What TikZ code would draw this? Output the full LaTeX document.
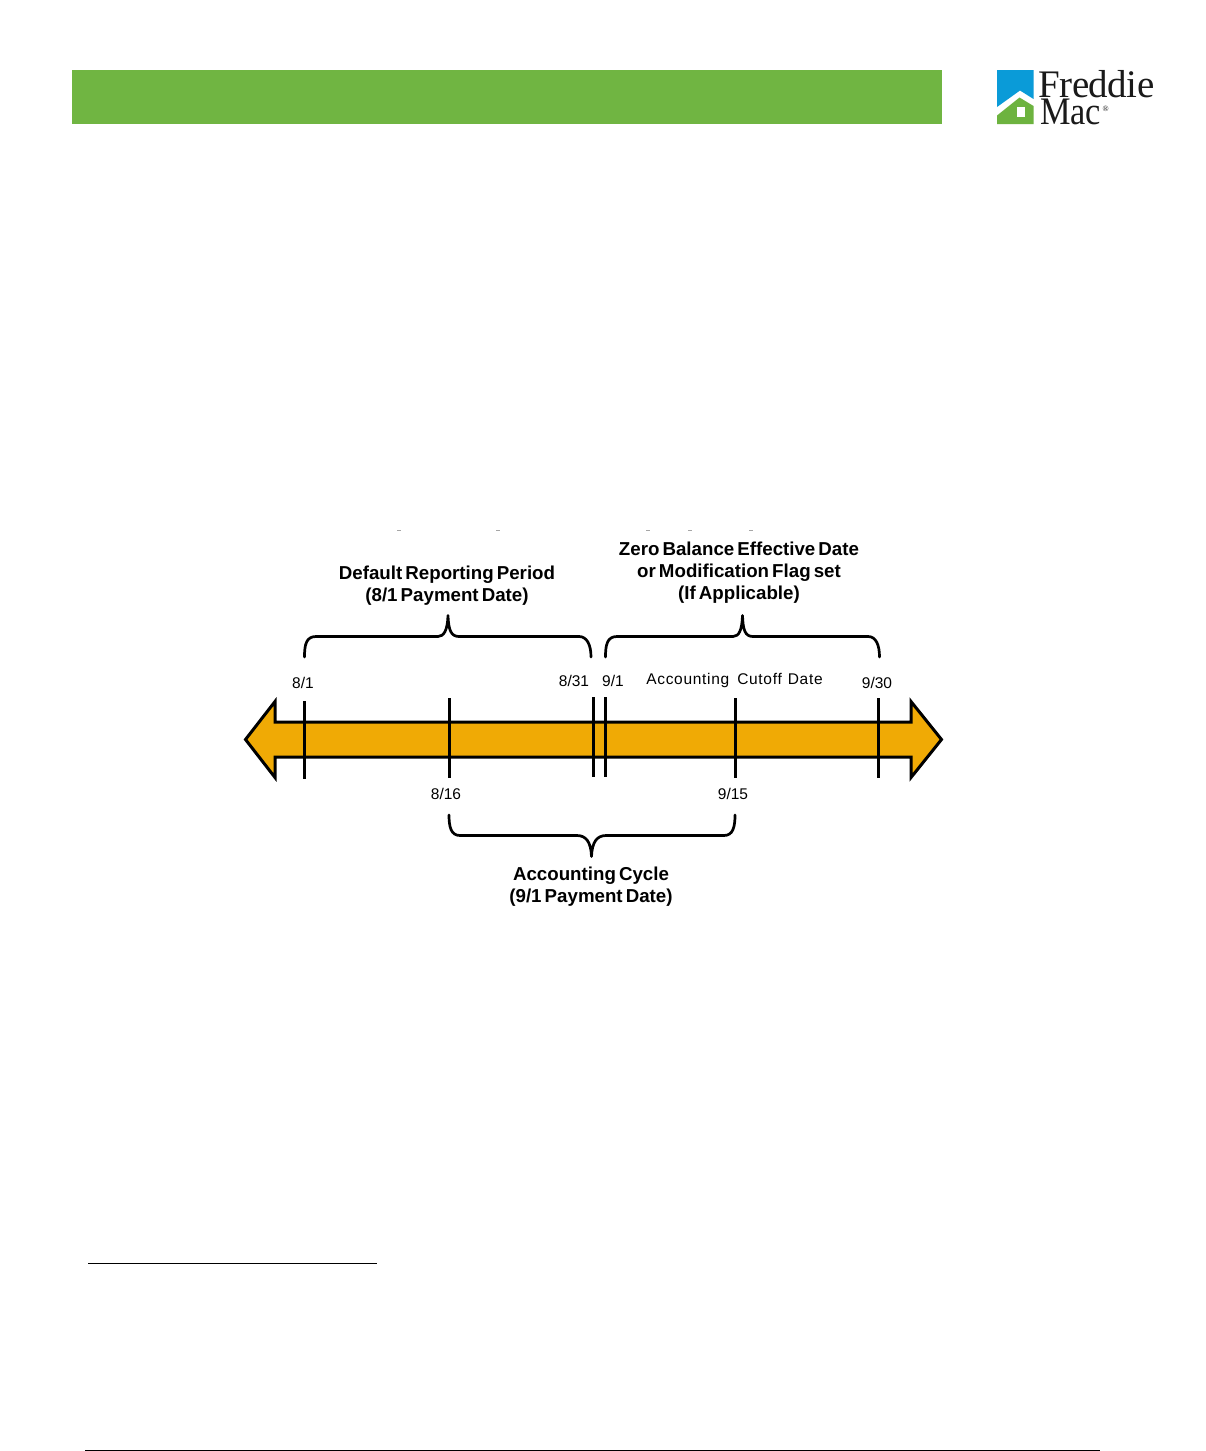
\documentclass[tikz,border=0pt]{standalone}
\usepackage{graphicx}
\usepackage{fontspec}
\setmainfont{Liberation Sans}
\newfontfamily\logofont{Liberation Serif}
\newfontfamily\titlefont[WordSpace=0.6]{Liberation Sans Bold}
\definecolor{bargreen}{HTML}{70B542}
\definecolor{barorange}{HTML}{F0AA05}
\definecolor{logoblue}{HTML}{0A9BD8}
\definecolor{logogreen}{HTML}{6DB33F}
\definecolor{logotext}{HTML}{1A1A1A}
\tikzset{
  titlelabel/.style={font=\fontsize{18.7}{22}\selectfont\titlefont, align=center, inner sep=0pt, text=black},
  datelabel/.style={font=\fontsize{15.5}{17}\selectfont, inner sep=0pt, anchor=base, text=black},
  ticklinestyle/.style={line width=3pt, black},
  bracestyle/.style={line width=2.7pt, black, line cap=round, line join=round},
  logoword/.style={font=\fontsize{39}{27}\selectfont\logofont, inner sep=0pt, align=left, anchor=north west, text=logotext}
}
\begin{document}
\begin{tikzpicture}[x=1pt,y=-1pt]
\useasboundingbox (0,0) rectangle (1205,1451);
\fill[white] (0,0) rectangle (1205,1451);
% header
\fill[bargreen] (72,70) rectangle (942,124.2);
% logo
\fill[logoblue] (997,70) -- (1033.5,70) -- (1033.5,99) -- (1020,90.5) -- (997,107) -- cycle;
\fill[logogreen] (997,115.5) -- (1019.5,97.5) -- (1033.5,106) -- (1033.5,124.2) -- (997,124.2) -- cycle;
\fill[white] (1017,107) rectangle (1024.5,117);
\node[logoword] (logoA) at (1038.5,69.8) {\addfontfeature{LetterSpace=-1.5}Freddie\\\kern1.5pt\scalebox{0.88}[1]{Mac}\kern1.5pt\raisebox{13pt}{\fontsize{8}{8}\selectfont ®}};
% clipped remains of a line of text
\foreach \mx in {399,498,648,690,751}
  \draw[gray!70, line width=0.9pt] (\mx-2,530.3) -- (\mx+2,530.3);
% timeline arrow
\draw[line width=3pt, line join=miter, miter limit=10, fill=barorange]
  (245.5,739.5) -- (275,701.5) -- (275,722) -- (911,722) -- (911,701.5) -- (941.5,739.5)
  -- (911,777.5) -- (911,757) -- (275,757) -- (275,777.5) -- cycle;
% ticks
\coordinate (t1a) at (304,701); \coordinate (t1b) at (304,779);
\coordinate (t2a) at (449,698); \coordinate (t2b) at (449,778);
\coordinate (t3a) at (593,697); \coordinate (t3b) at (593,777);
\coordinate (t4a) at (605,697); \coordinate (t4b) at (605,777);
\coordinate (t5a) at (735,698); \coordinate (t5b) at (735,778);
\coordinate (t6a) at (878,698); \coordinate (t6b) at (878,778);
\foreach \k in {1,...,6} \draw[ticklinestyle] (t\k a) -- (t\k b);
% braces
\draw[bracestyle] (304.5,657) .. controls (304.5,645) and (306,636.5) .. (316,636.5)
  -- (438,636.5) .. controls (444,636.5) and (447.5,630) .. (448,615.5)
  .. controls (448.5,630) and (451,636.5) .. (459,636.5)
  -- (579,636.5) .. controls (587,636.5) and (591,645) .. (591,657);
\draw[bracestyle] (605.5,657) .. controls (605.5,645) and (607,636.5) .. (617,636.5)
  -- (733,636.5) .. controls (739,636.5) and (742,630) .. (742.5,615.5)
  .. controls (743,630) and (745,636.5) .. (753,636.5)
  -- (868,636.5) .. controls (876,636.5) and (879.5,645) .. (879.5,657);
\draw[bracestyle] (449,815) .. controls (449,827) and (451,835.5) .. (460,835.5)
  -- (577,835.5) .. controls (586,835.5) and (591,842) .. (591.5,856.5)
  .. controls (592,842) and (597,835.5) .. (606,835.5)
  -- (724,835.5) .. controls (733,835.5) and (735,827) .. (735,815);
% titles
\node[titlelabel] (drp) at (447,586) {Default Reporting Period\\(8/1 Payment Date)};
\node[titlelabel] (zbe) at (739,573) {Zero Balance Effective Date\\or Modification Flag set\\(If Applicable)};
\node[titlelabel] (acc) at (591,887) {Accounting Cycle\\(9/1 Payment Date)};
% dates
\node[datelabel] (d81) at (303,688) {8/1};
\node[datelabel] (d831) at (574,686.5) {8/31};
\node[datelabel] (d91) at (613,686.5) {9/1};
\node[datelabel] (dcut) at (734.5,684.5) {\addfontfeature{LetterSpace=4.5}Accounting\hspace{3pt} Cutoff\hspace{1pt} Date};
\node[datelabel] (d930) at (877,688) {9/30};
\node[datelabel] (d816) at (446,799) {8/16};
\node[datelabel] (d915) at (733,799) {9/15};
% rules
\draw[line width=1pt] (88,1263) -- (377,1263);
\draw[line width=1pt] (85,1450.4) -- (1100,1450.4);
\end{tikzpicture}
\end{document}
